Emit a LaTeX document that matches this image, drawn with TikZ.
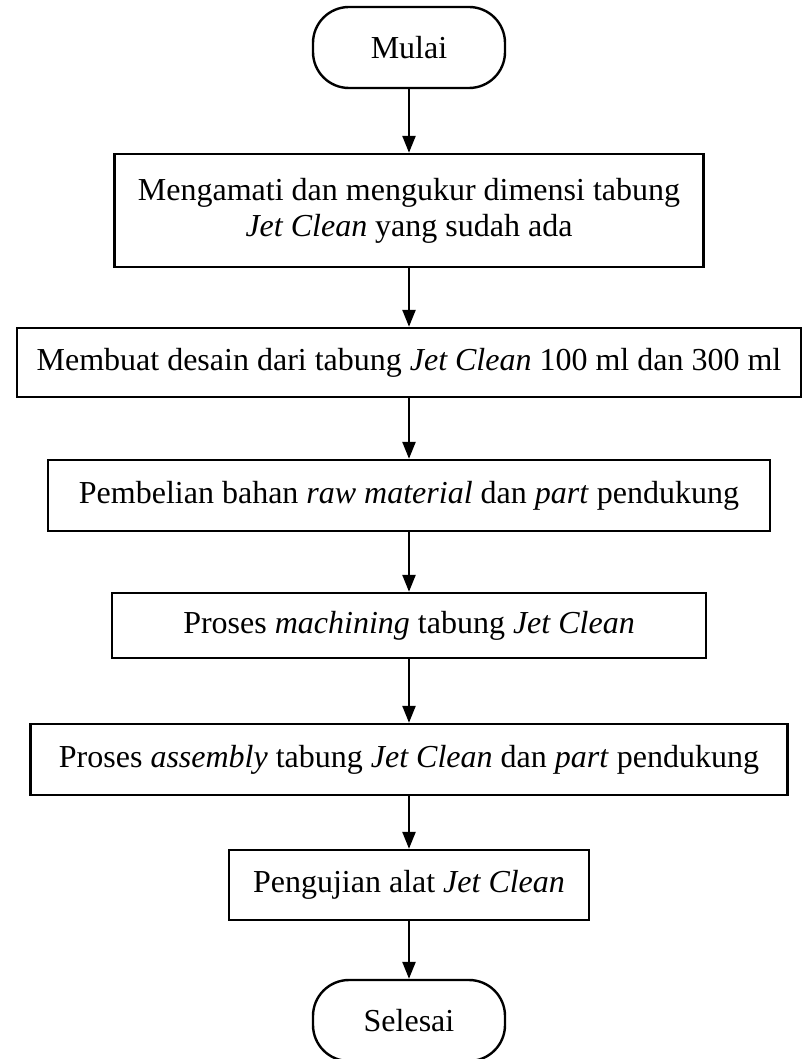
\documentclass[tikz,border=0pt]{standalone}
\usepackage{fontspec}
\setmainfont{Liberation Serif}
\usetikzlibrary{arrows.meta}
\newcommand{\jc}{\textit{Jet Clean}}

\begin{document}
\begin{tikzpicture}[x=0.5pt,y=-0.5pt,line width=1.2pt,
   font=\fontsize{16}{18}\selectfont,
   proses/.style={draw,rectangle,inner sep=0pt,align=center},
   ujung/.style={draw,rounded corners=18pt,inner sep=0pt,
     minimum width=96pt,minimum height=40.5pt},
   panah/.style={-{Triangle[length=8.5pt,width=6.5pt]}}]
   \useasboundingbox (0,0) rectangle (802,1059);
   \node[ujung] (mulai) at (409,47.5) {Mulai};
   \node[proses,minimum width=294.5pt,minimum height=56.5pt] (amati) at (409,210.5)
     {Mengamati dan mengukur dimensi tabung\\\jc{} yang sudah ada};
   \node[proses,minimum width=392pt,minimum height=34.5pt] (desain) at (409,362.5)
     {Membuat desain dari tabung \jc{} 100 ml dan 300 ml};
   \node[proses,minimum width=361pt,minimum height=35.5pt] (beli) at (409,495.5)
     {Pembelian bahan \textit{raw material} dan \textit{part} pendukung};
   \node[proses,minimum width=297pt,minimum height=32.5pt] (mesin) at (409,625.5)
     {Proses \textit{machining} tabung \jc};
   \node[proses,minimum width=378.5pt,minimum height=35.5pt] (rakit) at (409,759.5)
     {Proses \textit{assembly} tabung \jc{} dan \textit{part} pendukung};
   \node[proses,minimum width=180pt,minimum height=35pt] (uji) at (409,885)
     {Pengujian alat \jc};
   \node[ujung] (selesai) at (409,1020.5) {Selesai};
   \draw[panah] (mulai) -- (amati);
   \draw[panah] (amati) -- (desain);
   \draw[panah] (desain) -- (beli);
   \draw[panah] (beli) -- (mesin);
   \draw[panah] (mesin) -- (rakit);
   \draw[panah] (rakit) -- (uji);
   \draw[panah] (uji) -- (selesai);
\end{tikzpicture}
\end{document}
